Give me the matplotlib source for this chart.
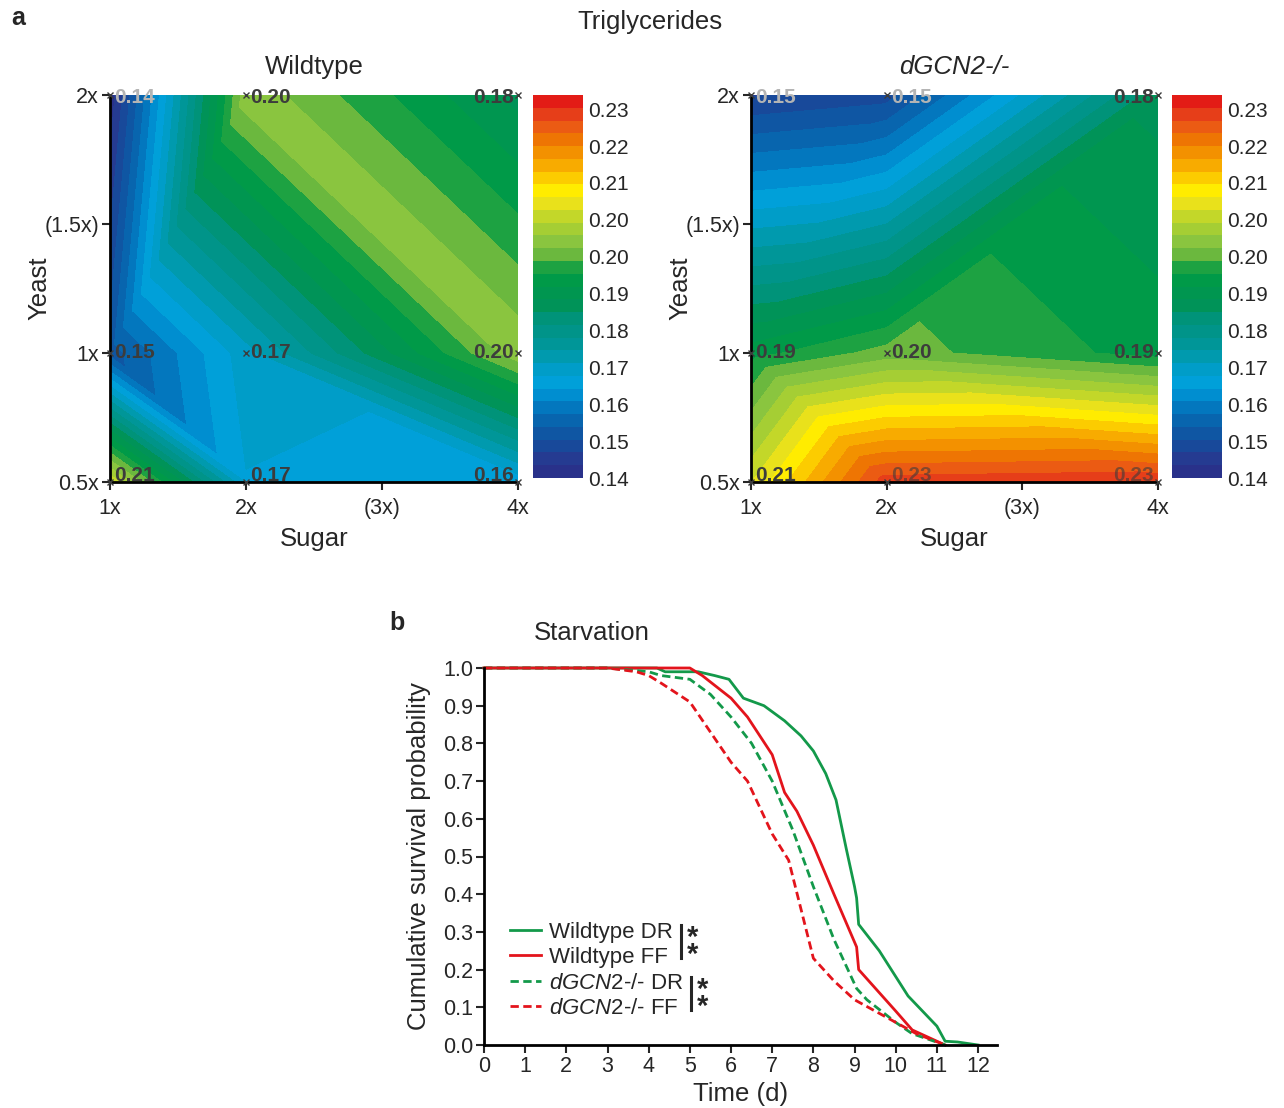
import numpy as np
import matplotlib
matplotlib.use("Agg")
import matplotlib.pyplot as plt
import matplotlib.tri as mtri
from matplotlib.colors import LinearSegmentedColormap

plt.rcParams['font.family'] = 'Liberation Sans'
plt.rcParams['mathtext.fontset'] = 'custom'
plt.rcParams['mathtext.rm'] = 'Liberation Sans'
plt.rcParams['mathtext.it'] = 'Liberation Sans:italic'
plt.rcParams['text.color'] = '#262626'
plt.rcParams['axes.labelcolor'] = '#262626'
plt.rcParams['xtick.color'] = '#262626'
plt.rcParams['ytick.color'] = '#262626'

# ---- panel a data: rows = yeast 0.5x, 1x, 2x ; cols = sugar 1x, 2x, 4x
sugar = [1, 2, 4]
yeast = [0.5, 1, 2]
sugar_ticks = ['1x', '2x', '(3x)', '4x']
yeast_ticks = ['0.5x', '1x', '(1.5x)', '2x']

tg_wildtype = [[0.207, 0.166, 0.164],
               [0.152, 0.168, 0.200],
               [0.142, 0.200, 0.184]]
tg_dgcn2 = [[0.207, 0.231, 0.232],
            [0.190, 0.196, 0.190],
            [0.147, 0.149, 0.184]]

# ---- panel b data: survival curves
wt_dr_t = [0, 4.2, 4.4, 5.2, 5.6, 5.95, 6.3, 6.8, 7.3, 7.7, 8.0, 8.3, 8.55, 8.8, 9.0, 9.05, 9.1, 9.6, 10.3, 11.0, 11.2, 11.5, 12.0]
wt_dr_s = [1.0, 1.0, 0.99, 0.99, 0.98, 0.97, 0.92, 0.90, 0.86, 0.82, 0.78, 0.72, 0.65, 0.52, 0.42, 0.39, 0.32, 0.25, 0.13, 0.05, 0.01, 0.008, 0.0]
wt_ff_t = [0, 5.0, 5.3, 6.0, 6.4, 7.0, 7.3, 7.6, 8.0, 8.5, 9.05, 9.1, 10.0, 10.4, 11.2]
wt_ff_s = [1.0, 1.0, 0.98, 0.92, 0.87, 0.77, 0.67, 0.62, 0.53, 0.40, 0.26, 0.20, 0.09, 0.04, 0.0]
ko_dr_t = [0, 3.0, 4.0, 4.3, 5.0, 5.5, 6.0, 6.5, 7.0, 7.5, 8.0, 8.5, 9.05, 9.3, 10.0, 10.4, 11.2]
ko_dr_s = [1.0, 1.0, 0.99, 0.98, 0.97, 0.93, 0.87, 0.80, 0.70, 0.57, 0.42, 0.28, 0.15, 0.12, 0.06, 0.03, 0.0]
ko_ff_t = [0, 3.0, 3.7, 4.0, 4.3, 5.0, 5.5, 6.0, 6.4, 7.0, 7.4, 7.7, 8.0, 8.5, 9.0, 9.5, 10.0, 10.5, 11.2]
ko_ff_s = [1.0, 1.0, 0.99, 0.98, 0.96, 0.91, 0.83, 0.75, 0.70, 0.56, 0.49, 0.36, 0.23, 0.17, 0.12, 0.09, 0.06, 0.03, 0.0]

# colour scale
vmin, vmax = 0.141, 0.2355
levels = np.linspace(vmin, vmax, 31)
cbar_ticks = [0.141 + 0.0091 * k for k in range(11)]
cmap = LinearSegmentedColormap.from_list('tg', [
    (0.00, '#2b2c86'), (0.05, '#253c92'), (0.10, '#11509f'), (0.15, '#0865ae'),
    (0.20, '#0083c8'), (0.24, '#00a0dd'), (0.29, '#009dc4'), (0.34, '#00979c'),
    (0.41, '#00937e'), (0.45, '#009358'), (0.52, '#009a47'), (0.54, '#0c9e46'),
    (0.565, '#3aaa3c'), (0.59, '#79bc3f'), (0.62, '#8dc63f'), (0.655, '#a8cf33'),
    (0.69, '#cad926'), (0.72, '#ece21a'), (0.745, '#fff000'), (0.78, '#fdd000'),
    (0.81, '#f9b300'), (0.85, '#f39200'), (0.89, '#ee7203'),
    (0.93, '#e9511a'), (0.97, '#e43019'), (1.00, '#e20613')])

tri_wt = [[0, 1, 3], [1, 4, 3], [1, 2, 4], [2, 5, 4],
          [3, 4, 7], [3, 7, 6], [4, 5, 7], [5, 8, 7]]
tri_ko = [[0, 1, 3], [1, 4, 3], [1, 2, 4], [2, 5, 4],
          [3, 4, 7], [3, 7, 6], [4, 5, 8], [4, 8, 7]]

W, H = 1284, 1108
fig = plt.figure(figsize=(W / 100, H / 100), dpi=100)


def heatmap(ax, cax, z, triangles, title, style):
    X, Y = np.meshgrid(sugar, yeast)
    tri = mtri.Triangulation(X.ravel(), Y.ravel(), triangles)
    cs = ax.tricontourf(tri, np.ravel(z), levels=levels, cmap=cmap)
    ax.set_xlim(1, 4)
    ax.set_ylim(0.5, 2)
    ax.set_xticks([1, 2, 3, 4], sugar_ticks)
    ax.set_yticks([0.5, 1, 1.5, 2], yeast_ticks)
    ax.tick_params(direction='out', length=6, width=1.5, labelsize=15.5, pad=2)
    ax.tick_params(axis='x', pad=5.5)
    for s in ['top', 'right']:
        ax.spines[s].set_visible(False)
    for s in ['left', 'bottom']:
        ax.spines[s].set_linewidth(2)
        ax.spines[s].set_zorder(5)
    ax.set_title(title, fontsize=18.5, pad=15, fontstyle=style)
    ax.set_xlabel('Sugar', fontsize=18.5)
    ax.set_ylabel('Yeast', fontsize=18.5)
    ax.xaxis.set_label_coords(0.5, -0.116)
    ax.yaxis.set_label_coords(-0.143, 0.5)
    ax.plot(X.ravel(), Y.ravel(), 'x', ms=4, mew=1, color='#3c3c3c', clip_on=False, zorder=6)
    for j, yv in enumerate(yeast):
        for i, xv in enumerate(sugar):
            v = z[j][i]
            col = '#b4b4b4' if v < 0.15 else '#3c3c3c'
            alpha = 0.6 if v > 0.225 else 1
            dy = [5, 0, -1.5][j]
            dx, ha = (-3, 'right') if i == 2 else (3, 'left')
            ax.annotate(f'{v:.2f}', (xv, yv), xytext=(dx, dy), textcoords='offset points',
                        ha=ha, va='center', fontsize=15, fontweight='bold', color=col,
                        alpha=alpha, annotation_clip=False, zorder=7)
    cb = fig.colorbar(cs, cax=cax)
    cb.set_ticks(cbar_ticks)
    cb.set_ticklabels([f'{t:.2f}' for t in cbar_ticks])
    cb.outline.set_visible(False)
    cax.tick_params(length=0, labelsize=15, pad=4)


ax_wt = fig.add_axes([110 / W, 1 - 482 / H, 408 / W, 387 / H])
cax_wt = fig.add_axes([533 / W, 1 - 478 / H, 50 / W, 383 / H])
ax_ko = fig.add_axes([751 / W, 1 - 482 / H, 407 / W, 387 / H])
cax_ko = fig.add_axes([1172 / W, 1 - 478 / H, 50 / W, 383 / H])
heatmap(ax_wt, cax_wt, tg_wildtype, tri_wt, 'Wildtype', 'normal')
heatmap(ax_ko, cax_ko, tg_dgcn2, tri_ko, 'dGCN2-/-', 'italic')

fig.text(650 / W, 1 - 22 / H, 'Triglycerides', fontsize=18.5, ha='center', va='center')
fig.text(18 / W, 1 - 18 / H, 'a', fontsize=18, fontweight='bold', ha='center', va='center')

# ---- panel b
green, red = '#13994a', '#e3141c'
ax = fig.add_axes([484 / W, 1 - 1045 / H, 513 / W, 377 / H])
ax.plot(wt_dr_t, wt_dr_s, color=green, lw=2, label='Wildtype DR', clip_on=False)
ax.plot(wt_ff_t, wt_ff_s, color=red, lw=2, label='Wildtype FF', clip_on=False)
ax.plot(ko_dr_t, ko_dr_s, color=green, lw=2, dashes=(3, 1.6), label=r'$\it{dGCN2}$-/- DR', clip_on=False)
ax.plot(ko_ff_t, ko_ff_s, color=red, lw=2, dashes=(3, 1.6), label=r'$\it{dGCN2}$-/- FF', clip_on=False)
ax.set_xlim(0, 12.46)
ax.set_ylim(0, 1)
ax.set_xticks(range(13))
ax.set_yticks(np.arange(0, 1.01, 0.1))
ax.yaxis.set_major_formatter(plt.FormatStrFormatter('%.1f'))
ax.tick_params(direction='out', length=6, width=1.5, labelsize=15.5, pad=2)
for s in ['top', 'right']:
    ax.spines[s].set_visible(False)
for s in ['left', 'bottom']:
    ax.spines[s].set_linewidth(2)
ax.set_xlabel('Time (d)', fontsize=18.5)
ax.set_ylabel('Cumulative survival probability', fontsize=18.5)
ax.xaxis.set_label_coords(0.5, -0.098)
ax.yaxis.set_label_coords(-0.103, 0.5)
ax.legend(loc='upper left', bbox_to_anchor=(0.05, 0.327), frameon=False, fontsize=16,
          handlelength=1.4, handletextpad=0.35, labelspacing=0.2, borderaxespad=0, borderpad=0)

# significance marks
for bx, (y0, y1), sx in [(0.3834, (0.318, 0.231), 0.407),
                         (0.4029, (0.180, 0.093), 0.4265)]:
    ax.plot([bx, bx], [y0, y1], transform=ax.transAxes, color='#262626', lw=2.2, clip_on=False)
    ax.text(sx, y0 + 0.002, '*\n*', transform=ax.transAxes, fontsize=21, fontweight='bold',
            linespacing=0.47, ha='center', va='top')

fig.text(592 / W, 1 - 633 / H, 'Starvation', fontsize=18.5, ha='center', va='center')
fig.text(397 / W, 1 - 623 / H, 'b', fontsize=18, fontweight='bold', ha='center', va='center')

fig.savefig('out.png', dpi=100)
